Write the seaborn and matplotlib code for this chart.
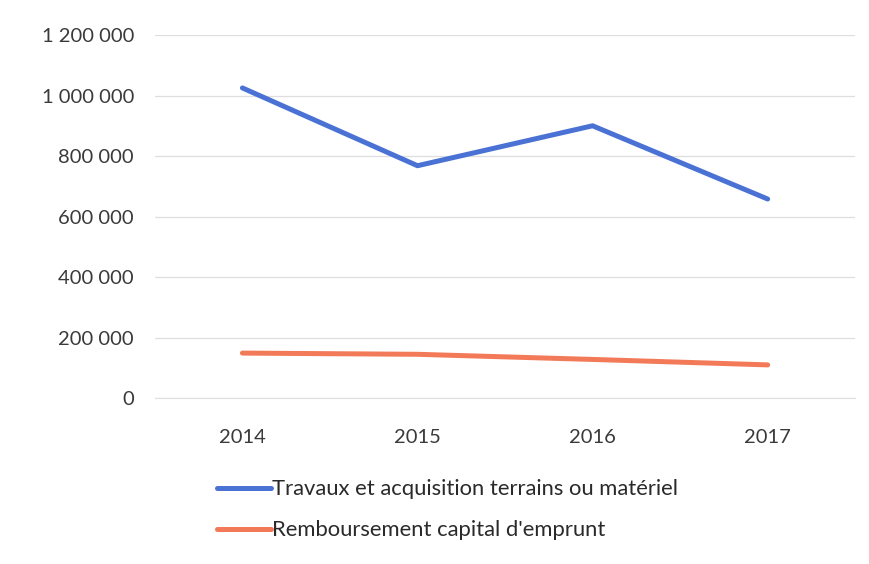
import pandas as pd
import numpy as np
import matplotlib
matplotlib.use("Agg")
import matplotlib.pyplot as plt
import seaborn as sns
from matplotlib.ticker import FuncFormatter

sns.set_style("white")
plt.rcParams['font.family'] = ['Lato', 'DejaVu Sans']

# data
years = ["2014", "2015", "2016", "2017"]
travaux = [1025000, 768000, 900000, 658000]
remboursement = [149000, 145000, 128000, 110000]
series_names = ["Travaux et acquisition terrains ou matériel",
                "Remboursement capital d'emprunt"]
y_ticks = [0, 200000, 400000, 600000, 800000, 1000000, 1200000]

df = pd.DataFrame({
    "annee": years * 2,
    "montant": travaux + remboursement,
    "serie": [series_names[0]] * 4 + [series_names[1]] * 4,
})

fig = plt.figure(figsize=(8.7, 5.64), dpi=100)
ax = fig.add_axes([0.178, 0.294, 0.805, 0.644])

sns.lineplot(data=df, x="annee", y="montant", hue="serie",
             palette=["#4a72d4", "#f27a58"], linewidth=3.6,
             sort=False, ax=ax, legend=True)

ax.set_xlim(-0.5, 3.5)
ax.set_ylim(0, 1200000)
ax.set_yticks(y_ticks)
ax.yaxis.set_major_formatter(
    FuncFormatter(lambda v, p: f"{int(v):,}".replace(",", " ")))
ax.grid(axis="y", color="#dedede", linewidth=0.9)
ax.set_axisbelow(True)
for s in ["top", "right", "left"]:
    ax.spines[s].set_visible(False)
ax.spines["bottom"].set_color("#dedede")
ax.tick_params(axis="both", length=0, labelsize=14.5, colors="#3a3a3a")
ax.tick_params(axis="y", pad=15)
ax.tick_params(axis="x", pad=22)
ax.set_xlabel("")
ax.set_ylabel("")

handles, labels = ax.get_legend_handles_labels()
ax.get_legend().remove()
fig.legend(handles, labels, loc="upper left", bbox_to_anchor=(0.227, 0.185),
           frameon=False, fontsize=15.8, handlelength=2.45, handletextpad=0.05,
           labelspacing=0.95, labelcolor="#2a2a2a")

plt.savefig("out.png", dpi=100)
